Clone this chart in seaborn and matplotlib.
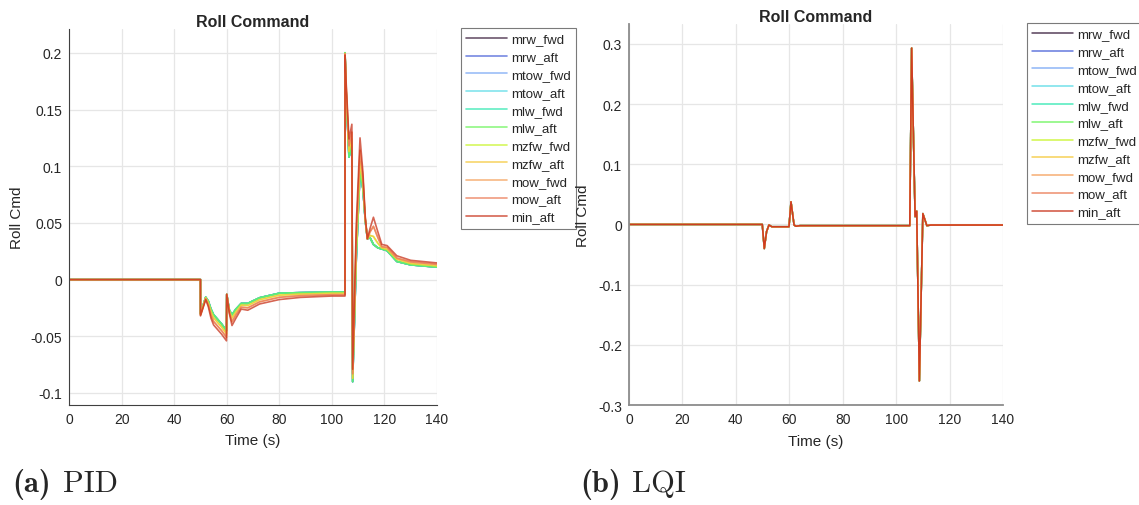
import numpy as np
import pandas as pd
import matplotlib
matplotlib.use('Agg')
import matplotlib.pyplot as plt
from matplotlib.ticker import MultipleLocator, FuncFormatter
import seaborn as sns

# ---------- data ----------
series_names = ['mrw_fwd', 'mrw_aft', 'mtow_fwd', 'mtow_aft', 'mlw_fwd', 'mlw_aft',
                'mzfw_fwd', 'mzfw_aft', 'mow_fwd', 'mow_aft', 'min_aft']
series_colors = ['#3b1f3d', '#4a62d8', '#7aa8f5', '#5adbe6', '#2ee8b0', '#6cf55a',
                 '#c8f52a', '#f5c83a', '#f5a05a', '#eb7a55', '#c8321a']

# PID response, time in s
t_pid = [0, 50, 50.01, 52, 53, 54, 55, 56.5, 58, 59.9, 60, 61, 62, 63.5, 65.5, 68,
         72.5, 80, 88, 100, 104.99, 105, 105.5, 106.5, 107.6, 107.9, 109.3, 110.7,
         111.8, 112.7, 113.5, 114.5, 115.8, 117.5, 119, 121, 124.7, 130, 140]
# heaviest case (red)
pid_min = [0, 0, -0.032, -0.0176, -0.024, -0.034, -0.040, -0.044, -0.048, -0.054,
           -0.013, -0.030, -0.0405, -0.034, -0.026, -0.027, -0.0215, -0.0176, -0.0157,
           -0.0145, -0.0145, 0.198, 0.170, 0.124, 0.137, -0.079, 0.050, 0.125, 0.095,
           0.055, 0.036, 0.045, 0.055, 0.042, 0.031, 0.030, 0.021, 0.017, 0.0147]
# orange cases
pid_mow = [0, 0, -0.0313, -0.0169, -0.0223, -0.0312, -0.0369, -0.0409, -0.0449,
           -0.0509, -0.013, -0.029, -0.0372, -0.031, -0.0243, -0.0249, -0.0196, -0.0156,
           -0.0142, -0.0133, -0.0133, 0.199, 0.1665, 0.118, 0.130, -0.083, 0.040, 0.114,
           0.090, 0.054, 0.036, 0.042, 0.047, 0.037, 0.029, 0.0284, 0.019, 0.0156, 0.0134]
# yellow cases
pid_mzfw = [0, 0, -0.0306, -0.016, -0.0205, -0.0284, -0.0337, -0.0377, -0.0417,
            -0.0477, -0.013, -0.028, -0.0339, -0.0284, -0.0225, -0.0228, -0.0177,
            -0.0137, -0.0128, -0.0121, -0.0121, 0.1995, 0.163, 0.113, 0.124, -0.087,
            0.029, 0.104, 0.085, 0.053, 0.036, 0.039, 0.038, 0.032, 0.028, 0.0268, 0.018,
            0.0142, 0.0121]
# lightest cases (green)
pid_mlw = [0, 0, -0.030, -0.0155, -0.019, -0.026, -0.031, -0.035, -0.039, -0.045,
           -0.013, -0.027, -0.031, -0.026, -0.021, -0.021, -0.016, -0.012, -0.0115,
           -0.011, -0.011, 0.200, 0.160, 0.108, 0.118, -0.090, 0.020, 0.095, 0.080,
           0.052, 0.036, 0.037, 0.031, 0.028, 0.027, 0.0255, 0.016, 0.013, 0.011]
pid_curve_of = {'mrw_fwd': pid_mlw, 'mrw_aft': pid_mlw, 'mtow_fwd': pid_mlw,
                'mtow_aft': pid_mlw, 'mlw_fwd': pid_mlw, 'mlw_aft': pid_mlw,
                'mzfw_fwd': pid_mzfw, 'mzfw_aft': pid_mzfw, 'mow_fwd': pid_mow,
                'mow_aft': pid_mow, 'min_aft': pid_min}

# LQI response (all cases nearly identical)
t_lqi = [0, 49.9, 50.65, 51.5, 52.4, 53.5, 59.9, 60.65, 61.8, 62.5, 64, 105.1, 105.8,
         107.1, 107.7, 108.7, 110, 111.5, 113, 140]
lqi_cmd = [0, 0, -0.040, -0.012, -0.001, -0.0038, -0.0038, 0.0376, -0.001, -0.003,
           -0.002, -0.002, 0.293, 0.013, 0.022, -0.260, 0.018, -0.002, -0.001, -0.001]

# ---------- style ----------
sns.set_style('white')
plt.rcParams['font.family'] = ['Liberation Sans', 'DejaVu Sans']
plt.rcParams['axes.unicode_minus'] = False

fig = plt.figure(figsize=(11.39, 5.06), dpi=100)
ax1 = fig.add_axes([0.0606, 0.1976, 0.3231, 0.7431])
ax2 = fig.add_axes([0.5522, 0.1976, 0.3284, 0.7530])


def fmt(v, pos):
    return '%g' % round(v, 4)


for name, col in zip(series_names, series_colors):
    sns.lineplot(x=t_pid, y=pid_curve_of[name], ax=ax1, color=col, lw=1.2, alpha=0.75,
                 label=name, estimator=None, sort=False)
    sns.lineplot(x=t_lqi, y=lqi_cmd, ax=ax2, color=col, lw=1.1, alpha=0.85,
                 label=name, estimator=None, sort=False)

panels = [(ax1, (-0.1106, 0.221), 0.05, '#404040', 0.8, (0.4047, 0.9427), -0.122),
          (ax2, (-0.3, 0.333), 0.1, '#8c8c8c', 1.3, (0.9017, 0.9526), -0.104)]
for ax, ylim, ystep, spc, splw, legpos, ylx in panels:
    ax.set_xlim(0, 140)
    ax.set_ylim(*ylim)
    ax.xaxis.set_major_locator(MultipleLocator(20))
    ax.yaxis.set_major_locator(MultipleLocator(ystep))
    ax.yaxis.set_major_formatter(FuncFormatter(fmt))
    ax.grid(True, color='#e6e6e6', lw=0.9)
    ax.tick_params(direction='in', length=4, width=0.8, colors=spc, labelsize=10,
                   labelcolor='#262626', pad=5)
    for s in ['top', 'right']:
        ax.spines[s].set_visible(False)
    for s in ['left', 'bottom']:
        ax.spines[s].set_color(spc)
        ax.spines[s].set_linewidth(splw)
    ax.set_title('Roll Command', fontsize=11.5, fontweight='bold', pad=2)
    ax.set_xlabel('Time (s)', fontsize=11, color='#262626')
    ax.set_ylabel('Roll Cmd', fontsize=11, color='#262626')
    ax.xaxis.set_label_coords(0.5, -0.075)
    ax.yaxis.set_label_coords(ylx, 0.5)
    ax.legend(loc='upper left', bbox_to_anchor=legpos, bbox_transform=fig.transFigure,
              fontsize=9.5, frameon=True, fancybox=False, edgecolor='#7a7a7a',
              framealpha=1, borderaxespad=0, borderpad=0.4, labelspacing=0.42,
              handlelength=3.1, handletextpad=0.3).get_frame().set_linewidth(0.8)

# sub-figure captions
fig.text(0.0105, 0.028, '(a)', fontfamily='cmb10', fontsize=22)
fig.text(0.0555, 0.028, 'PID', fontfamily='cmr10', fontsize=22)
fig.text(0.5092, 0.028, '(b)', fontfamily='cmb10', fontsize=22)
fig.text(0.5545, 0.028, 'LQI', fontfamily='cmr10', fontsize=22)

fig.savefig('out.png', dpi=100)
